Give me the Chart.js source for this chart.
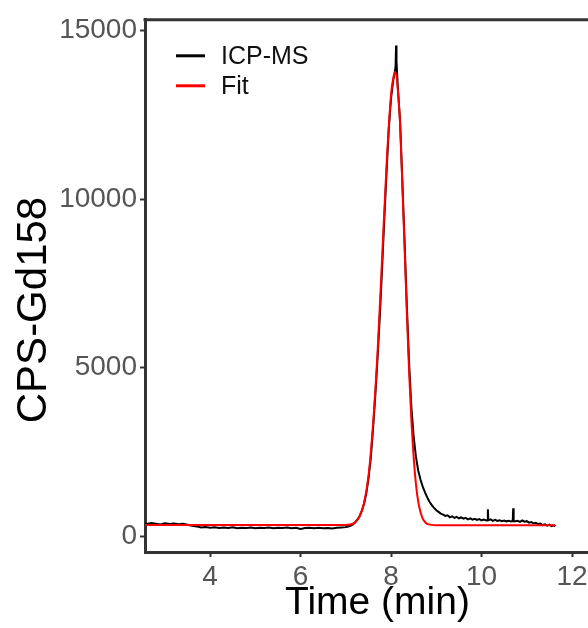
<!DOCTYPE html>
<html>
<head>
<meta charset="utf-8">
<script src="https://cdn.jsdelivr.net/npm/chart.js@4"></script>
<style>
  html, body { margin: 0; padding: 0; background: #fff; overflow: hidden; }
  #wrap { width: 588px; height: 628px; overflow: hidden; }
</style>
</head>
<body>
<div id="wrap"><canvas id="gdChart" width="610" height="628"></canvas></div>
<script>
// values
const icpTime = [2.5, 2.6, 2.7, 2.8, 2.9, 3.0, 3.1, 3.2, 3.3, 3.4, 3.5, 3.6, 3.7, 3.8, 3.9,
  4.0, 4.1, 4.2, 4.3, 4.4, 4.5, 4.6, 4.7, 4.8, 4.9, 5.0, 5.1, 5.2, 5.3, 5.4, 5.5, 5.6, 5.7, 5.8, 5.9,
  6.0, 6.1, 6.2, 6.3, 6.4, 6.5, 6.6, 6.7, 6.8, 6.9, 7.0,
  7.05, 7.1, 7.15, 7.2, 7.25, 7.3, 7.35, 7.4, 7.45, 7.5, 7.55, 7.6, 7.65, 7.7, 7.75, 7.8, 7.85, 7.9, 7.95,
  8.0, 8.05, 8.08, 8.1, 8.11, 8.12, 8.15, 8.2, 8.25, 8.3, 8.35, 8.4, 8.45, 8.5, 8.55, 8.6, 8.65, 8.7, 8.75,
  8.8, 8.85, 8.9, 8.95, 9.0, 9.05, 9.1, 9.15, 9.2, 9.25, 9.3, 9.35, 9.4, 9.45, 9.5, 9.55, 9.6, 9.65, 9.7,
  9.75, 9.8, 9.85, 9.9, 9.95, 10.0, 10.05, 10.1, 10.13, 10.14, 10.15, 10.2, 10.25, 10.3, 10.35, 10.4, 10.45,
  10.5, 10.55, 10.6, 10.65, 10.69, 10.7, 10.71, 10.75, 10.8, 10.85, 10.9, 10.95, 11.0, 11.05, 11.1, 11.15,
  11.2, 11.25, 11.3, 11.35, 11.4, 11.45, 11.5, 11.55, 11.6, 11.63];
const icpCps = [380, 365, 390, 372, 350, 385, 362, 378, 355, 370, 340, 310, 290, 255, 270,
  248, 262, 240, 258, 245, 266, 238, 252, 244, 260, 236, 250, 242, 258, 234, 248, 240, 255, 232, 246,
  212, 240, 250, 236, 252, 238, 244, 226, 250, 258, 268,
  285, 310, 345, 400, 480, 580, 740, 950, 1250, 1700, 2300, 3150, 4150, 5250, 6500, 7900, 9400, 10800, 12100,
  13000, 13550, 13750, 13950, 14560, 14100, 13300, 12300, 10500, 8700, 6800, 5100, 3800, 2950, 2350, 1950, 1680, 1470, 1300,
  1150, 1020, 920, 840, 770, 720, 670, 640, 600, 620, 560, 590, 540, 570, 530, 555, 520, 545, 500,
  530, 490, 515, 480, 505, 470, 490, 465, 480, 800, 470, 500, 455, 485, 450, 470, 445,
  465, 440, 455, 435, 450, 830, 445, 440, 455, 425, 470, 430, 445, 400, 420, 380,
  395, 360, 375, 330, 350, 310, 340, 300, 320, 290];

const fitTime = [2.5, 3.5, 4.5, 5.5, 6.5, 7.0, 7.1, 7.2, 7.3, 7.4, 7.5, 7.6, 7.7, 7.8, 7.9, 8.0, 8.05, 8.09,
  8.15, 8.2, 8.25, 8.3, 8.35, 8.4, 8.45, 8.5, 8.55, 8.6, 8.65, 8.7, 8.75, 8.8, 8.9, 9.0, 9.5, 10.5, 11.63];
const fitCps = [330, 330, 330, 330, 330, 332, 348, 406, 572, 968, 1774, 3300, 5420, 8195, 11010, 13110, 13600, 13780,
  13240, 12200, 10390, 8490, 6580, 4843, 3416, 2329, 1545, 1024, 720, 522, 420, 364, 335, 325, 322, 322, 322];

const xTicks = [4, 6, 8, 10, 12];
const yTicks = [0, 5000, 10000, 15000];
const yTitle = 'CPS-Gd158';

const FONT = '"Liberation Sans", Arial, sans-serif';
const toPoints = (xs, ys) => xs.map((x, i) => ({ x: x, y: ys[i] }));

// legend drawn inside the panel, top-left
const insideLegend = {
    id: 'insideLegend',
    afterDatasetsDraw(chart) {
        const ctx = chart.ctx;
        const area = chart.chartArea;
        ctx.save();
        ctx.font = '25px ' + FONT;
        ctx.textBaseline = 'middle';
        chart.data.datasets.forEach((ds, i) => {
            const y = area.top + 36 + i * 30;
            ctx.strokeStyle = ds.borderColor;
            ctx.lineWidth = 3;
            ctx.beginPath();
            ctx.moveTo(area.left + 31, y);
            ctx.lineTo(area.left + 60, y);
            ctx.stroke();
            ctx.fillStyle = '#111';
            ctx.fillText(ds.label, area.left + 76, y + 1);
        });
        ctx.restore();
    }
};

// top line of the panel frame + y axis title (sits a bit below panel centre)
const frameAndTitle = {
    id: 'frameAndTitle',
    afterDraw(chart) {
        const ctx = chart.ctx;
        const a = chart.chartArea;
        ctx.save();
        ctx.strokeStyle = '#333';
        ctx.lineWidth = 3;
        ctx.beginPath();
        ctx.moveTo(a.left - 1.5, a.top);
        ctx.lineTo(a.right + 5, a.top);
        ctx.stroke();

        ctx.translate(34, 310);
        ctx.rotate(-Math.PI / 2);
        ctx.font = '42px ' + FONT;
        ctx.fillStyle = '#000';
        ctx.textAlign = 'center';
        ctx.textBaseline = 'middle';
        ctx.fillText(yTitle, 0, 0);
        ctx.restore();
    }
};

function renderChart() {
    const ctx = document.getElementById('gdChart');

    new Chart(ctx, {
        type: 'line',
        data: {
            datasets: [{
                label: 'ICP-MS',
                data: toPoints(icpTime, icpCps),
                borderColor: '#000000',
                borderWidth: 2,
                pointRadius: 0,
                tension: 0,
                order: 2
            }, {
                label: 'Fit',
                data: toPoints(fitTime, fitCps),
                borderColor: '#ff0000',
                borderWidth: 2,
                pointRadius: 0,
                cubicInterpolationMode: 'monotone',
                order: 1
            }]
        },
        options: {
            responsive: false,
            animation: false,
            layout: {
                padding: { top: 14, right: 0, bottom: 0, left: 0 }
            },
            plugins: {
                legend: { display: false },
                tooltip: { enabled: false }
            },
            scales: {
                x: {
                    type: 'linear',
                    min: 2.56,
                    max: 12.84,
                    afterBuildTicks: s => { s.ticks = xTicks.map(v => ({ value: v })); },
                    afterFit: s => { s.height = 76; },
                    grid: {
                        drawOnChartArea: false,
                        tickLength: 5,
                        tickColor: '#333',
                        tickWidth: 2
                    },
                    border: { display: true, color: '#333', width: 3 },
                    ticks: {
                        color: '#555',
                        padding: 3,
                        maxRotation: 0,
                        callback: v => String(v),
                        font: { family: FONT, size: 28 }
                    },
                    title: {
                        display: true,
                        text: 'Time (min)',
                        color: '#000',
                        padding: { top: 0, bottom: 1 },
                        font: { family: FONT, size: 39 }
                    }
                },
                y: {
                    type: 'linear',
                    min: -470,
                    max: 15324,
                    afterBuildTicks: s => { s.ticks = yTicks.map(v => ({ value: v })); },
                    afterFit: s => { s.width = 145; },
                    grid: {
                        drawOnChartArea: false,
                        tickLength: 5,
                        tickColor: '#333',
                        tickWidth: 2
                    },
                    border: { display: true, color: '#333', width: 3 },
                    ticks: {
                        color: '#555',
                        padding: 3,
                        callback: v => String(v),
                        font: { family: FONT, size: 28 }
                    }
                }
            }
        },
        plugins: [insideLegend, frameAndTitle]
    });
}

renderChart();
</script>
</body>
</html>
